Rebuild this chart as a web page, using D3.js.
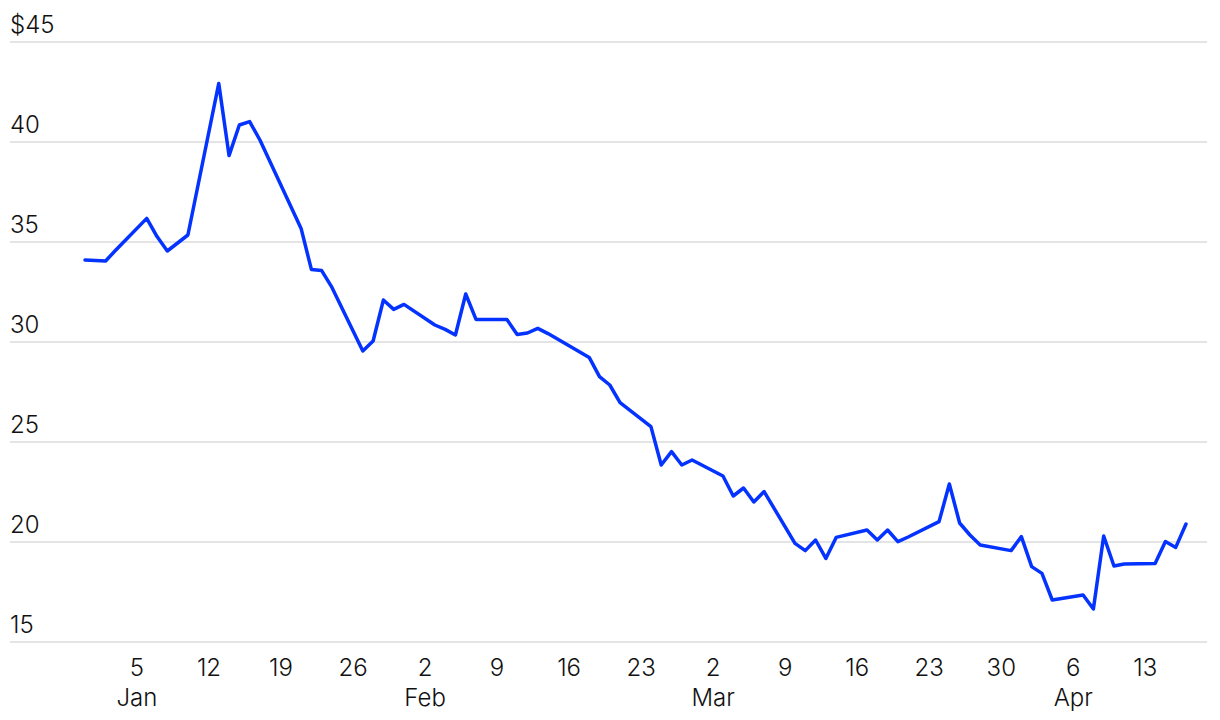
<!DOCTYPE html>
<html>
<head>
<meta charset="utf-8">
<script src="https://cdn.jsdelivr.net/npm/d3@7"></script>
<style>
  html, body { margin: 0; padding: 0; background: #fff; }
  svg text { font-family: Inter, "Noto Sans", sans-serif; font-weight: 300; fill: #111; }
</style>
</head>
<body>
<div id="chart"></div>
<script>
// ---- data (daily close, trading days) ----
const dates = [
  '2024-12-31',
  '2025-01-02', '2025-01-03', '2025-01-06', '2025-01-07', '2025-01-08', '2025-01-10',
  '2025-01-13', '2025-01-14', '2025-01-15', '2025-01-16', '2025-01-17',
  '2025-01-21', '2025-01-22', '2025-01-23', '2025-01-24',
  '2025-01-27', '2025-01-28', '2025-01-29', '2025-01-30', '2025-01-31',
  '2025-02-03', '2025-02-04', '2025-02-05', '2025-02-06', '2025-02-07',
  '2025-02-10', '2025-02-11', '2025-02-12', '2025-02-13', '2025-02-14',
  '2025-02-18', '2025-02-19', '2025-02-20', '2025-02-21',
  '2025-02-24', '2025-02-25', '2025-02-26', '2025-02-27', '2025-02-28',
  '2025-03-03', '2025-03-04', '2025-03-05', '2025-03-06', '2025-03-07',
  '2025-03-10', '2025-03-11', '2025-03-12', '2025-03-13', '2025-03-14',
  '2025-03-17', '2025-03-18', '2025-03-19', '2025-03-20', '2025-03-21',
  '2025-03-24', '2025-03-25', '2025-03-26', '2025-03-27', '2025-03-28',
  '2025-03-31', '2025-04-01', '2025-04-02', '2025-04-03', '2025-04-04',
  '2025-04-07', '2025-04-08', '2025-04-09', '2025-04-10', '2025-04-11',
  '2025-04-14', '2025-04-15', '2025-04-16', '2025-04-17'
];
const prices = [
  34.1,
  34.05, 34.6, 36.18, 35.27, 34.55, 35.35,
  42.93, 39.32, 40.85, 41.02, 40.1,
  35.68, 33.63, 33.57, 32.73,
  29.55, 30.05, 32.1, 31.63, 31.88,
  30.85, 30.63, 30.35, 32.4, 31.13,
  31.13, 30.38, 30.45, 30.68, 30.42,
  29.23, 28.27, 27.85, 26.97,
  25.77, 23.85, 24.52, 23.85, 24.1,
  23.3, 22.3, 22.7, 22.0, 22.52,
  19.93, 19.57, 20.1, 19.18, 20.23,
  20.6, 20.1, 20.6, 20.02, 20.25,
  21.02, 22.9, 20.95, 20.35, 19.85,
  19.57, 20.27, 18.77, 18.43, 17.1,
  17.35, 16.65, 20.3, 18.8, 18.9,
  18.93, 20.02, 19.73, 20.9
];
const yTicks = [15, 20, 25, 30, 35, 40, 45];
const monthNames = ['Jan', 'Feb', 'Mar', 'Apr', 'May', 'Jun', 'Jul', 'Aug', 'Sep', 'Oct', 'Nov', 'Dec'];

// ---- render ----
const W = 1220, H = 720;
const gridLeft = 10, gridRight = 1207;

const data = dates.map((d, i) => ({ date: new Date(d + 'T00:00:00Z'), price: prices[i] }));

const svg = d3.select('#chart').append('svg')
  .attr('width', W)
  .attr('height', H);

const x = d3.scaleUtc()
  .domain([new Date('2024-12-31T00:00:00Z'), new Date('2025-04-17T00:00:00Z')])
  .range([85, 1186]);

const y = d3.scaleLinear()
  .domain([15, 45])
  .range([642, 42]);

// gridlines + y labels
const yG = svg.append('g');
yG.selectAll('line')
  .data(yTicks)
  .join('line')
  .attr('x1', gridLeft)
  .attr('x2', gridRight)
  .attr('y1', (d) => y(d))
  .attr('y2', (d) => y(d))
  .attr('stroke', '#e4e4e4')
  .attr('stroke-width', 2);
yG.selectAll('text')
  .data(yTicks)
  .join('text')
  .attr('x', gridLeft)
  .attr('y', (d) => y(d) - 9)
  .attr('font-size', 24)
  .text((d) => (d === 45 ? '$' + d : d));

// x axis: weekly ticks (Sundays), month name under first tick of each month
const weekTicks = d3.utcSunday.range(new Date('2025-01-01T00:00:00Z'), new Date('2025-04-18T00:00:00Z'));
const xAxis = d3.axisBottom(x)
  .tickValues(weekTicks)
  .tickSize(0)
  .tickPadding(0)
  .tickFormat((d) => d.getUTCDate());
const xG = svg.append('g')
  .attr('transform', 'translate(0,676)')
  .call(xAxis);
xG.select('.domain').remove();
xG.selectAll('text')
  .attr('font-size', 24)
  .attr('font-family', null)
  .attr('fill', '#111')
  .attr('dy', 0);
xG.selectAll('.tick')
  .filter((d, i) => i === 0 || d.getUTCMonth() !== weekTicks[i - 1].getUTCMonth())
  .append('text')
  .attr('y', 30)
  .attr('text-anchor', 'middle')
  .attr('font-size', 24)
  .attr('fill', '#111')
  .text((d) => monthNames[d.getUTCMonth()]);

// price line
const line = d3.line()
  .x((d) => x(d.date))
  .y((d) => y(d.price));
svg.append('path')
  .datum(data)
  .attr('d', line)
  .attr('fill', 'none')
  .attr('stroke', '#0433ff')
  .attr('stroke-width', 3.5)
  .attr('stroke-linejoin', 'round')
  .attr('stroke-linecap', 'round');
</script>
</body>
</html>
